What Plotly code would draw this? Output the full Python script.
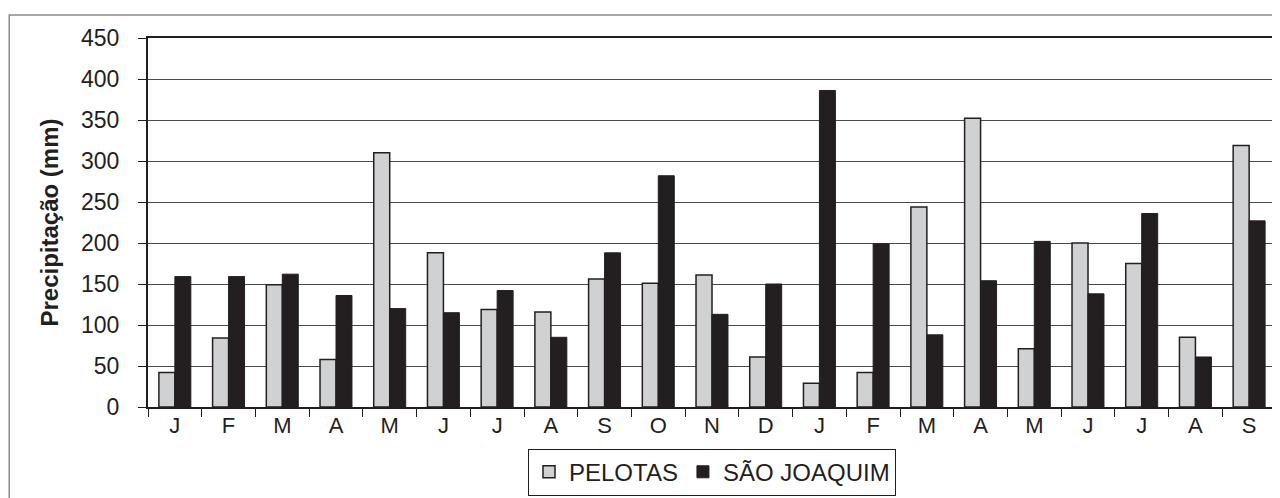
import plotly.graph_objects as go

months = ["J", "F", "M", "A", "M", "J", "J", "A", "S", "O", "N", "D",
          "J", "F", "M", "A", "M", "J", "J", "A", "S"]
pelotas = [42, 84, 149, 58, 310, 188, 119, 116, 156, 151, 161, 61,
           29, 42, 244, 352, 71, 200, 175, 85, 319]
sao_joaquim = [159, 159, 162, 136, 120, 115, 142, 85, 188, 282, 113, 150,
               386, 199, 88, 154, 202, 138, 236, 61, 227]
y_ticks = [0, 50, 100, 150, 200, 250, 300, 350, 400, 450]

idx = list(range(len(months)))
FONT = "Liberation Sans, Arial, sans-serif"

fig = go.Figure()
fig.add_trace(go.Bar(x=idx, y=pelotas, name="PELOTAS",
                     marker=dict(color="#d0d1d3", line=dict(color="#231f20", width=1.5))))
fig.add_trace(go.Bar(x=idx, y=sao_joaquim, name="SÃO JOAQUIM",
                     marker=dict(color="#231f20", line=dict(color="#231f20", width=1))))
# invisible trace to carry the label axis
fig.add_trace(go.Scatter(x=idx, y=[0] * len(idx), xaxis="x2", mode="markers",
                         marker=dict(opacity=0), showlegend=False, hoverinfo="skip"))

n = len(months)
bounds = [i - 0.5 for i in range(n + 1)]

# page has an 8px body margin: compensate so the figure lands on the 1280x498 window
fig.update_layout(
    width=1272, height=490,
    margin=dict(l=140, r=2, t=30, b=82),
    paper_bgcolor="white", plot_bgcolor="white",
    barmode="group", bargap=0.405, bargroupgap=0,
    font=dict(family=FONT, color="#231f20"),
    xaxis=dict(range=[-0.5, n - 0.5], tickmode="array", tickvals=bounds,
               ticktext=[""] * len(bounds), ticks="outside", ticklen=8,
               tickcolor="#231f20", tickwidth=1, showgrid=False,
               showline=True, linecolor="#231f20", linewidth=2, mirror=True,
               zeroline=False),
    xaxis2=dict(range=[-0.5, n - 0.5], overlaying="x", side="bottom",
                tickmode="array", tickvals=idx, ticktext=months, ticks="",
                showgrid=False, showline=False, zeroline=False,
                tickfont=dict(size=22, family=FONT, color="#231f20"),
                ticklabelstandoff=3),
    yaxis=dict(range=[0, 450], tickmode="array", tickvals=y_ticks,
               ticks="outside", ticklen=8, tickcolor="#231f20",
               tickfont=dict(size=23, family=FONT, color="#231f20"),
               ticklabelstandoff=14,
               showgrid=True, gridcolor="#4a4a4a", gridwidth=1,
               showline=True, linecolor="#231f20", linewidth=2, mirror=True,
               zeroline=False,
               title=dict(text="<b>Precipitação (mm)</b>",
                          font=dict(size=24, family=FONT, color="#231f20"),
                          standoff=16)),
    legend=dict(orientation="h", x=0.5, y=-0.113, xanchor="center", yanchor="top",
                bordercolor="#231f20", borderwidth=1,
                font=dict(size=24, family=FONT, color="#231f20"),
                itemwidth=30, tracegroupgap=0),
    showlegend=True,
    shapes=[dict(type="rect", xref="paper", yref="paper",
                 x0=-0.123, x1=1.05, y0=-0.3, y1=1.062,
                 line=dict(color="#8a8a8a", width=1.5), fillcolor="rgba(0,0,0,0)",
                 layer="below")],
)

fig.write_html("out.html")
